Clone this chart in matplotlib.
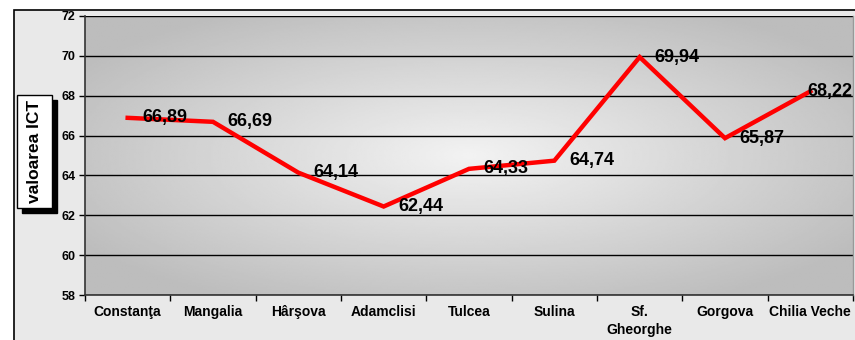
import numpy as np
import matplotlib
matplotlib.use("Agg")
import matplotlib.pyplot as plt
from matplotlib.patches import Rectangle

plt.rcParams["font.family"] = ["Liberation Sans", "DejaVu Sans"]

categories = ["Constanţa", "Mangalia", "Hârşova", "Adamclisi", "Tulcea",
              "Sulina", "Sf.\nGheorghe", "Gorgova", "Chilia Veche"]
values = [66.89, 66.69, 64.14, 62.44, 64.33, 64.74, 69.94, 65.87, 68.22]
yticks = [58, 60, 62, 64, 66, 68, 70, 72]

W, H = 855, 340
fig = plt.figure(figsize=(W / 100, H / 100), dpi=100)
fig.patch.set_facecolor("white")

# chart area background with border (extends beyond right/bottom edges)
bg = Rectangle((14 / W, -0.05), 1.1, 1.05 - 10 / H, transform=fig.transFigure,
               facecolor="#e9e9e9", edgecolor="black", linewidth=1.2, zorder=0)
fig.add_artist(bg)

left, right, top, bottom = 85, 853, 16, 295
ax = fig.add_axes([left / W, 1 - bottom / H, (right - left) / W, (bottom - top) / H])
ax.set_zorder(1)

n = len(categories)
ax.set_xlim(0, n)
ax.set_ylim(58, 72)

# radial gradient plot-area background
gx = np.linspace(-1, 1, 400)
gy = np.linspace(-1, 1, 200)
GX, GY = np.meshgrid(gx, gy)
R = np.clip(np.sqrt(GX ** 2 + GY ** 2) / 1.2, 0, 1)
grad = 0.95 - 0.21 * R
ax.imshow(grad, cmap="gray", vmin=0, vmax=1, extent=[0, n, 58, 72],
          aspect="auto", zorder=0, interpolation="bilinear")

for yt in yticks:
    ax.axhline(yt, color="black", linewidth=1.0, zorder=1)

xs = np.arange(n) + 0.5
ax.plot(xs, values, color="#ff0000", linewidth=3.2, zorder=3,
        solid_joinstyle="miter")

for i, (x, v) in enumerate(zip(xs, values)):
    off = 10.5 if i < n - 1 else -2
    ax.annotate(f"{v:.2f}".replace(".", ","), (x, v), xytext=(off, 0),
                textcoords="offset points", ha="left", va="center",
                fontsize=13, fontweight="bold", color="black", zorder=4,
                annotation_clip=False)

ax.set_yticks(yticks)
ax.set_yticklabels([str(t) for t in yticks], fontsize=9, fontweight="bold")
ax.set_xticks(np.arange(n + 1))
ax.set_xticklabels([])
ax.set_xticks(xs, minor=True)
ax.set_xticklabels(categories, minor=True, fontsize=10, fontweight="bold",
                   linespacing=1.35)
ax.tick_params(axis="x", which="minor", length=0, pad=7)
ax.tick_params(axis="x", which="major", length=4, width=1, direction="out")
ax.tick_params(axis="y", length=4, width=1, direction="out", pad=3)

for s in ["left", "bottom"]:
    ax.spines[s].set_color("#333333")
    ax.spines[s].set_linewidth(1.2)
ax.spines["top"].set_visible(False)
ax.spines["right"].set_color("#999999")
ax.spines["right"].set_linewidth(1.0)

# y-axis label in a box with shadow
bx0, bx1, by0, by1 = 17, 52, 95, 208
shadow = Rectangle(((bx0 + 5) / W, 1 - (by1 + 5) / H), (bx1 - bx0) / W, (by1 - by0) / H,
                   transform=fig.transFigure, facecolor="black", edgecolor="black",
                   zorder=2)
box = Rectangle((bx0 / W, 1 - by1 / H), (bx1 - bx0) / W, (by1 - by0) / H,
                transform=fig.transFigure, facecolor="white", edgecolor="black",
                linewidth=1.0, zorder=3)
fig.add_artist(shadow)
fig.add_artist(box)
fig.text((bx0 + bx1) / 2 / W, 1 - (by0 + by1) / 2 / H, "valoarea ICT",
         rotation=90, ha="center", va="center", fontsize=12.5, fontweight="bold",
         zorder=4)

fig.savefig("out.png", dpi=100)
